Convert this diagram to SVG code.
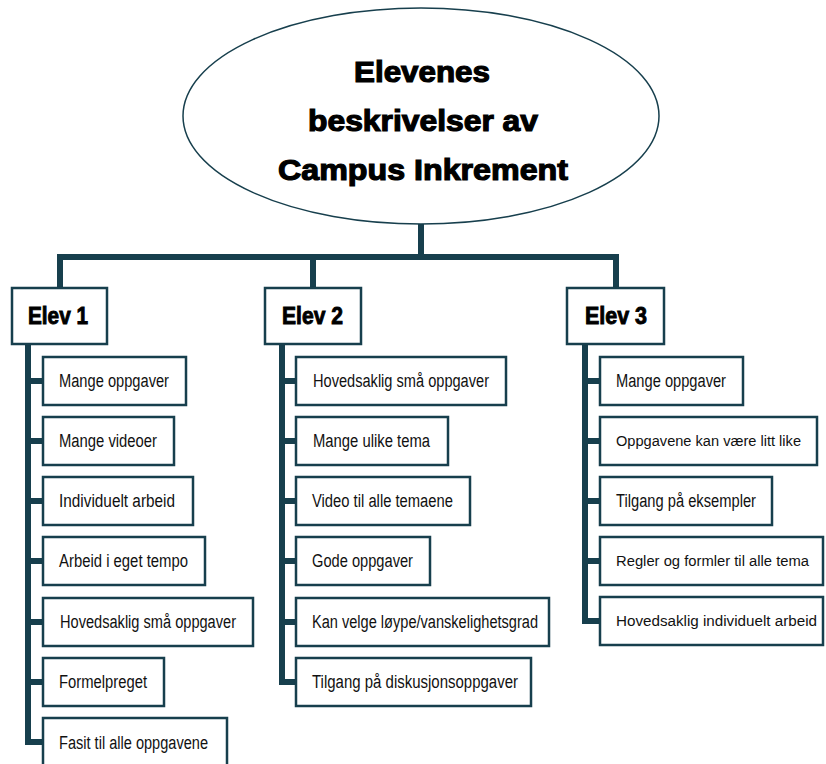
<svg xmlns="http://www.w3.org/2000/svg" width="826" height="764" viewBox="0 0 826 764">
<style>
.conn{fill:none;stroke:#173f4d;stroke-width:6;stroke-linejoin:miter}
.box{fill:#fff;stroke:#173f4d;stroke-width:2.5}
.t{font-family:"Liberation Sans",Arial,sans-serif;font-size:18px;fill:#111}
.s{font-size:15.5px}
.h{font-family:"Liberation Sans",Arial,sans-serif;font-size:23px;font-weight:bold;fill:#000;stroke:#000;stroke-width:0.9}
.title{font-family:"Liberation Sans",Arial,sans-serif;font-size:30px;font-weight:bold;fill:#000;stroke:#000;stroke-width:1.2;text-anchor:middle}
</style>
<rect width="826" height="764" fill="#fff"/>
<g id="connectors">
<path class="conn" d="M421 224V257M60 288V257H616V288M313 257V288"/>
<path class="conn" d="M28 344V742H43M28 381H43M28 441H43M28 501H43M28 561H43M28 622H43M28 682H43"/>
<path class="conn" d="M282 344V682H296M282 381H296M282 441H296M282 501H296M282 561H296M282 622H296"/>
<path class="conn" d="M585 344V621H600M585 381H600M585 441H600M585 501H600M585 561H600"/>
</g>
<g id="root">
<ellipse cx="421" cy="116" rx="238" ry="108" fill="#fff" stroke="#173f4d" stroke-width="1.5"/>
<text class="title" x="422" y="82" textLength="136" lengthAdjust="spacingAndGlyphs">Elevenes</text>
<text class="title" x="423" y="131" textLength="230" lengthAdjust="spacingAndGlyphs">beskrivelser av</text>
<text class="title" x="423" y="180" textLength="290" lengthAdjust="spacingAndGlyphs">Campus Inkrement</text>
</g>
<g id="elev1">
<rect class="box" x="12" y="288" width="95" height="56"/>
<text class="h" x="28" y="324" textLength="60" lengthAdjust="spacingAndGlyphs">Elev 1</text>
</g>
<g id="elev2">
<rect class="box" x="265" y="288" width="96" height="56"/>
<text class="h" x="282" y="324" textLength="61" lengthAdjust="spacingAndGlyphs">Elev 2</text>
</g>
<g id="elev3">
<rect class="box" x="567" y="288" width="97" height="56"/>
<text class="h" x="585" y="324" textLength="62" lengthAdjust="spacingAndGlyphs">Elev 3</text>
</g>
<g id="e1c1"><rect class="box" x="43" y="357" width="143" height="48"/><text class="t" x="59" y="387" textLength="110" lengthAdjust="spacingAndGlyphs">Mange oppgaver</text></g>
<g id="e1c2"><rect class="box" x="43" y="417" width="131" height="48"/><text class="t" x="59" y="447" textLength="98" lengthAdjust="spacingAndGlyphs">Mange videoer</text></g>
<g id="e1c3"><rect class="box" x="43" y="477" width="150" height="48"/><text class="t" x="59" y="507" textLength="116" lengthAdjust="spacingAndGlyphs">Individuelt arbeid</text></g>
<g id="e1c4"><rect class="box" x="43" y="537" width="162" height="48"/><text class="t" x="59" y="567" textLength="129" lengthAdjust="spacingAndGlyphs">Arbeid i eget tempo</text></g>
<g id="e1c5"><rect class="box" x="43" y="598" width="210" height="48"/><text class="t" x="60" y="628" textLength="176" lengthAdjust="spacingAndGlyphs">Hovedsaklig små oppgaver</text></g>
<g id="e1c6"><rect class="box" x="43" y="658" width="121" height="48"/><text class="t" x="59" y="688" textLength="88" lengthAdjust="spacingAndGlyphs">Formelpreget</text></g>
<g id="e1c7"><rect class="box" x="43" y="718" width="184" height="50"/><text class="t" x="59" y="749" textLength="149" lengthAdjust="spacingAndGlyphs">Fasit til alle oppgavene</text></g>
<g id="e2c1"><rect class="box" x="296" y="357" width="210" height="48"/><text class="t" x="313" y="387" textLength="176" lengthAdjust="spacingAndGlyphs">Hovedsaklig små oppgaver</text></g>
<g id="e2c2"><rect class="box" x="296" y="417" width="152" height="48"/><text class="t" x="313" y="447" textLength="117" lengthAdjust="spacingAndGlyphs">Mange ulike tema</text></g>
<g id="e2c3"><rect class="box" x="296" y="477" width="174" height="48"/><text class="t" x="312" y="507" textLength="141" lengthAdjust="spacingAndGlyphs">Video til alle temaene</text></g>
<g id="e2c4"><rect class="box" x="296" y="537" width="134" height="48"/><text class="t" x="312" y="567" textLength="101" lengthAdjust="spacingAndGlyphs">Gode oppgaver</text></g>
<g id="e2c5"><rect class="box" x="296" y="598" width="253" height="48"/><text class="t" x="312" y="628" textLength="226" lengthAdjust="spacingAndGlyphs">Kan velge løype/vanskelighetsgrad</text></g>
<g id="e2c6"><rect class="box" x="296" y="658" width="235" height="48"/><text class="t" x="312" y="688" textLength="206" lengthAdjust="spacingAndGlyphs">Tilgang på diskusjonsoppgaver</text></g>
<g id="e3c1"><rect class="box" x="600" y="357" width="143" height="48"/><text class="t" x="616" y="387" textLength="110" lengthAdjust="spacingAndGlyphs">Mange oppgaver</text></g>
<g id="e3c2"><rect class="box" x="600" y="417" width="217" height="48"/><text class="t s" x="616" y="446" textLength="185" lengthAdjust="spacingAndGlyphs">Oppgavene kan være litt like</text></g>
<g id="e3c3"><rect class="box" x="600" y="477" width="172" height="48"/><text class="t" x="616" y="507" textLength="140" lengthAdjust="spacingAndGlyphs">Tilgang på eksempler</text></g>
<g id="e3c4"><rect class="box" x="600" y="537" width="223" height="48"/><text class="t s" x="616" y="566" textLength="193" lengthAdjust="spacingAndGlyphs">Regler og formler til alle tema</text></g>
<g id="e3c5"><rect class="box" x="600" y="597" width="223" height="48"/><text class="t s" x="616" y="626" textLength="201" lengthAdjust="spacingAndGlyphs">Hovedsaklig individuelt arbeid</text></g>
</svg>
